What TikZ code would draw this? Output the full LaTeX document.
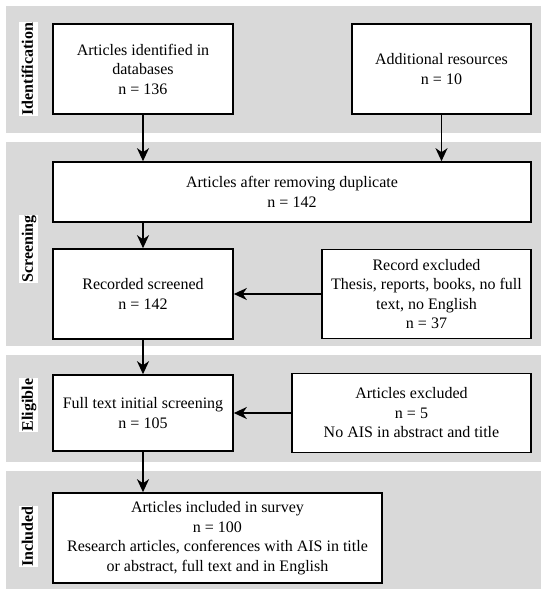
\documentclass[tikz,border=0pt]{standalone}
\usepackage{fontspec}
\setmainfont{Liberation Serif}
\usetikzlibrary{arrows.meta}
\definecolor{bandgray}{HTML}{D9D9D9}
\tikzset{
  band/.style={fill=bandgray, draw=none},
  flowbox/.style={draw=black, line width=1.6pt, fill=white, align=center, inner sep=0pt,
    font=\fontsize{16}{19.5}\selectfont},
  phase/.style={fill=white, rotate=90, inner xsep=0.5pt, inner ysep=1.5pt,
    text height=12pt, text depth=3.5pt, font=\fontsize{16}{19}\selectfont\bfseries},
  arr/.style={line width=1.5pt, -{Stealth[length=13pt, width=12pt, inset=4pt]}}
}
\begin{document}
\begin{tikzpicture}[x=1pt, y=-1pt]
\useasboundingbox (0,0) rectangle (550,597);
% bands
\fill[band] (6,6) rectangle (541,133);
\fill[band] (6,142) rectangle (541,346);
\fill[band] (6,355) rectangle (541,462);
\fill[band] (6,471) rectangle (541,589);
% phase labels
\node[phase] (lid) at (28.5,69) {Identification};
\node[phase] (lsc) at (28.5,249) {Screening};
\node[phase] (lel) at (28.5,405) {Eligible};
\node[phase] (lin) at (28.5,536.5) {Included};
% boxes
\node[flowbox, minimum width=180pt, minimum height=90pt] (id1) at (143,69)
  {Articles identified in\\databases\\n = 136};
\node[flowbox, minimum width=179pt, minimum height=90pt] (id2) at (441.5,69)
  {Additional resources\\n = 10};
\node[flowbox, minimum width=478pt, minimum height=60pt] (dup) at (292,192)
  {Articles after removing duplicate\\n = 142};
\node[flowbox, minimum width=180pt, minimum height=90pt] (scr) at (143,294)
  {Recorded screened\\n = 142};
\node[flowbox, minimum width=209pt, minimum height=89pt] (exc1) at (426.5,294)
  {Record excluded\\Thesis, reports, books, no full\\text, no English\\n = 37};
\node[flowbox, minimum width=180pt, minimum height=76pt] (ft) at (143,413)
  {Full text initial screening\\n = 105};
\node[flowbox, minimum width=239pt, minimum height=79pt] (exc2) at (411.5,413)
  {Articles excluded\\n = 5\\No AIS in abstract and title};
\node[flowbox, minimum width=329pt, minimum height=90pt] (inc) at (217.5,538)
  {Articles included in survey\\n = 100\\Research articles, conferences with AIS in title\\or abstract, full text and in English};
% connectors
\draw[arr] (id1.south) -- (dup.north -| id1.south);
\draw[arr] (id2.south) -- (dup.north -| id2.south);
\draw[arr] (dup.south -| scr.north) -- (scr.north);
\draw[arr] (exc1.west) -- (scr.east);
\draw[arr] (scr.south) -- (ft.north);
\draw[arr] (exc2.west) -- (ft.east);
\draw[arr] (ft.south) -- (inc.north -| ft.south);
\end{tikzpicture}
\end{document}
